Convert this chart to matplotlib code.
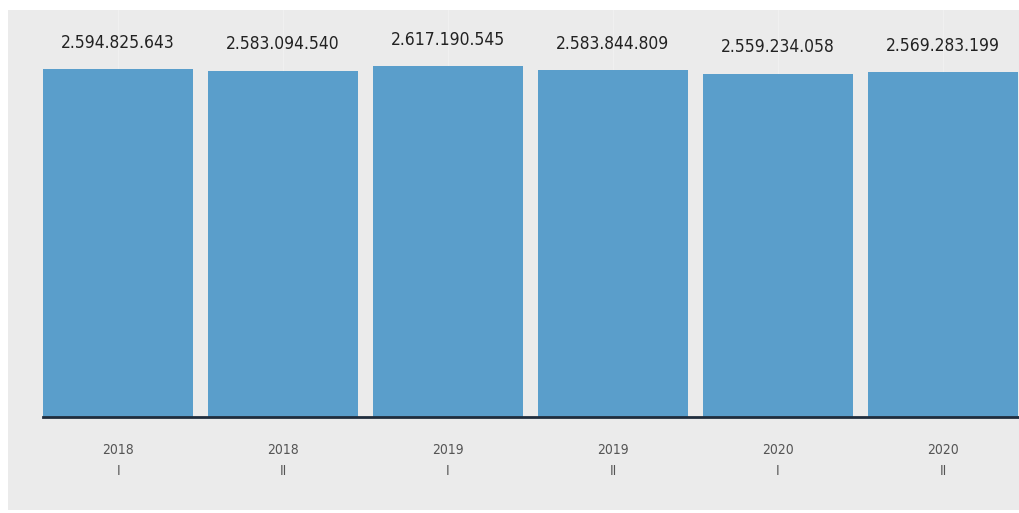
import matplotlib.pyplot as plt
from matplotlib.patches import Rectangle

# Data
years = ["2018", "2018", "2019", "2019", "2020", "2020"]
semesters = ["I", "II", "I", "II", "I", "II"]
values = [2594825643, 2583094540, 2617190545, 2583844809, 2559234058, 2569283199]

plt.rcParams['font.family'] = ['DejaVu Sans']
plt.rcParams['font.stretch'] = 'condensed'

fig = plt.figure(figsize=(10.2, 5.13), dpi=100)
fig.patch.set_facecolor('white')
# grey panel behind the chart
fig.patches.append(Rectangle((8 / 1020, 3 / 513), 1 - 8 / 1020, 500 / 513,
                             transform=fig.transFigure, facecolor='#ebebeb',
                             edgecolor='none', zorder=-10))

ax = fig.add_axes([43 / 1020, 96 / 513, 975 / 1020, 407 / 513])
ax.set_facecolor('none')

x = list(range(len(values)))
ax.bar(x, values, width=0.91, color='#5a9ecb', zorder=2)

for xi in x:
    ax.axvline(xi, color='#f0f0f0', lw=1, zorder=1)

for xi, v in zip(x, values):
    label = f"{v:,}".replace(",", ".")
    ax.annotate(label, (xi, v), xytext=(0, 19), textcoords='offset points',
                ha='center', va='center', fontsize=12.5, color='#222222',
                fontstretch='condensed')

ax.set_xlim(-0.455, 5.455)
ax.set_ylim(0, 2594825643 * 407 / 348)

ax.set_xticks(x)
ax.set_xticklabels([f"{y}\n{s}" for y, s in zip(years, semesters)],
                   fontsize=10, color='#555555', linespacing=1.6,
                   fontstretch='condensed')
ax.tick_params(axis='x', length=0, pad=19)
ax.set_yticks([])

for side in ['left', 'right', 'top']:
    ax.spines[side].set_visible(False)
ax.spines['bottom'].set_color('#1f2d3d')
ax.spines['bottom'].set_linewidth(2)
ax.spines['bottom'].set_zorder(3)

fig.savefig('out.png', dpi=100)
